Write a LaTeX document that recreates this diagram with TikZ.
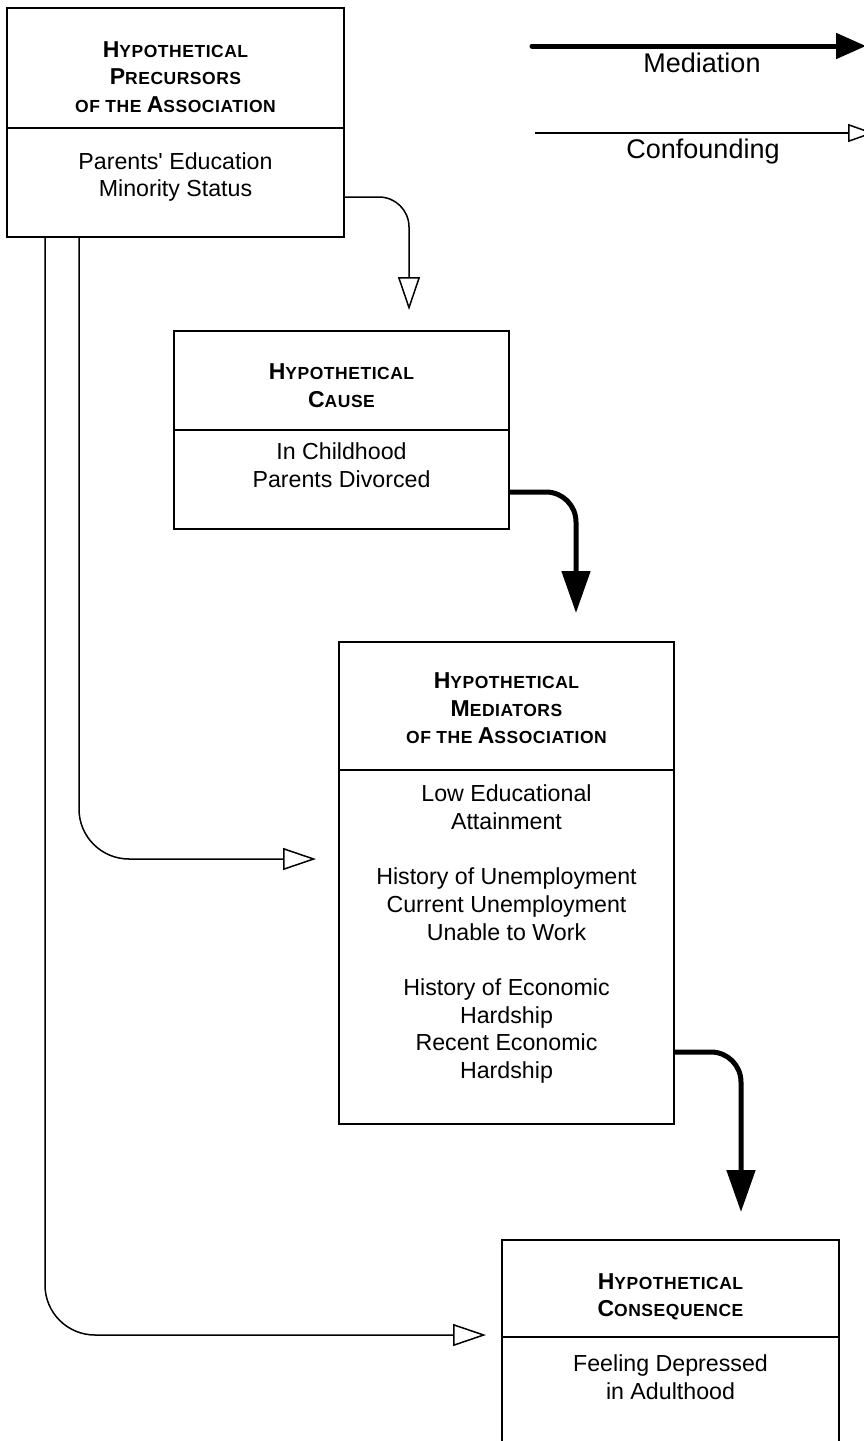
\documentclass[tikz,border=0pt]{standalone}
\usepackage{fontspec}
\setmainfont{Liberation Sans}
\newfontfamily\hdfont[LetterSpace=3]{Liberation Sans}
\usetikzlibrary{arrows.meta}
% small-caps heading: full-size initial, reduced capitals after it
\newcommand\hsc[2]{{\fontsize{23}{27.5}\selectfont #1}{\fontsize{17.5}{27.5}\selectfont #2}}
\tikzset{
  box/.style={draw=black, line width=1.6pt, inner sep=0pt, outer sep=0pt, anchor=north west},
  hd/.style={font=\hdfont\bfseries\fontsize{23}{27.5}\selectfont, align=center, inner sep=0pt},
  bd/.style={font=\fontsize{23.2}{27.7}\selectfont, align=center, inner sep=0pt},
  legtext/.style={font=\fontsize{27}{32}\selectfont, inner sep=0pt, anchor=base},
  medarrow/.style={line width=5pt, -{Triangle[length=42pt,width=28pt]}, rounded corners=30pt},
  confarrow/.style={line width=1.5pt, -{Triangle[open,length=33pt,width=22pt]}, rounded corners=#1},
  confarrow/.default=30pt
}
\begin{document}
\begin{tikzpicture}[x=1pt,y=-1pt]
\clip (0,0) rectangle (864,1441);
\fill[white] (0,0) rectangle (864,1441);

% ---- legend ----
\coordinate (m0) at (532,46);
\coordinate (m1) at (866,46);
\draw[line width=5pt, line cap=round, -{Triangle[length=30pt,width=25pt]}] (m0) -- (m1);
\node[legtext] (legmed) at (702,72) {Mediation};
\coordinate (c0) at (535,133);
\coordinate (c1) at (874,133);
\draw[line width=1.5pt, -{Triangle[open,length=26pt,width=18pt]}] (c0) -- (c1);
\node[legtext] (legconf) at (703,158) {Confounding};

% ---- precursors ----
\node[box, minimum width=337pt, minimum height=120pt] (preH) at (7,8) {};
\node[box, minimum width=337pt, minimum height=109pt] (preB) at (preH.south west) {};
\node[hd] (preHt) at (175.5,77) {\hsc{H}{YPOTHETICAL}\\\hsc{P}{RECURSORS}\\\hsc{}{OF THE }\hsc{A}{SSOCIATION}};
\node[bd] (preBt) at (175.5,177) {Parents\textquotesingle{} Education\\Minority Status};

% ---- cause ----
\node[box, minimum width=335pt, minimum height=99pt] (causeH) at (174,331) {};
\node[box, minimum width=335pt, minimum height=99pt] (causeB) at (causeH.south west) {};
\node[hd] (causeHt) at (341.5,385.5) {\hsc{H}{YPOTHETICAL}\\\hsc{C}{AUSE}};
\node[bd] (causeBt) at (341.5,465) {In Childhood\\Parents Divorced};

% ---- mediators ----
\node[box, minimum width=335pt, minimum height=128pt] (medH) at (339,642) {};
\node[box, minimum width=335pt, minimum height=354pt] (medB) at (medH.south west) {};
\node[hd] (medHt) at (506.5,708.5) {\hsc{H}{YPOTHETICAL}\\\hsc{M}{EDIATORS}\\\hsc{}{OF THE }\hsc{A}{SSOCIATION}};
\node[bd] (medBt) at (506.5,934) {Low Educational\\Attainment\\[27.7pt]History of Unemployment\\Current Unemployment\\Unable to Work\\[27.7pt]History of Economic\\Hardship\\Recent Economic\\Hardship};

% ---- consequence ----
\node[box, minimum width=337pt, minimum height=97pt] (conH) at (502,1240) {};
\node[box, minimum width=337pt, minimum height=200pt] (conB) at (conH.south west) {};
\node[hd] (conHt) at (670.5,1297) {\hsc{H}{YPOTHETICAL}\\\hsc{C}{ONSEQUENCE}};
\node[bd] (conBt) at (670.5,1377.5) {Feeling Depressed\\in Adulthood};

% ---- connectors ----
\coordinate (t1) at (409,310);
\coordinate (t2) at (576,613);
\coordinate (t3) at (741,1212);
\coordinate (t4) at (316,859);
\coordinate (t5) at (486,1335);
\draw[confarrow] ([yshift=-14.5pt]preB.east) -| (t1);
\draw[medarrow] ([yshift=-12.5pt]causeB.east) -| (t2);
\draw[medarrow] ([yshift=-105pt]medB.east) -| (t3);
\draw[confarrow=50pt] ([xshift=72pt]preB.south west) |- (t4);
\draw[confarrow=50pt] ([xshift=38pt]preB.south west) |- (t5);
\end{tikzpicture}
\end{document}
